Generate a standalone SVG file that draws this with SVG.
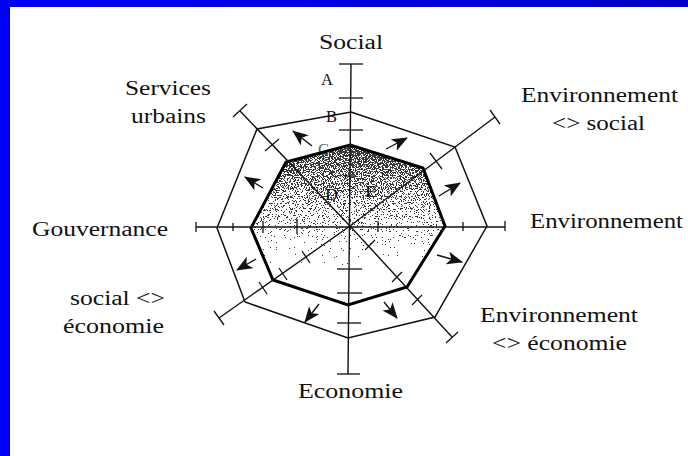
<svg xmlns="http://www.w3.org/2000/svg" width="688" height="456" viewBox="0 0 688 456">
<style>
.lbl{font-family:"Liberation Serif","Times New Roman",serif;font-size:20px;fill:#111}
.let{font-family:"Liberation Serif","Times New Roman",serif;font-size:16px;fill:#111}
.ax{stroke:#111;stroke-width:1.4;fill:none}
.tk{stroke:#111;stroke-width:1.3;fill:none}
.outer{stroke:#111;stroke-width:1.5;fill:none;stroke-linejoin:miter}
.inner{stroke:#000;stroke-width:3;fill:none;stroke-linejoin:miter}
.arr{stroke:#111;stroke-width:1.4;fill:none}
</style>
<defs>
<linearGradient id="shade" gradientUnits="userSpaceOnUse" x1="0" y1="145" x2="0" y2="300">
<stop offset="0" stop-color="#6a6a6a"/>
<stop offset="0.2" stop-color="#808080"/>
<stop offset="0.45" stop-color="#9f9f9f"/>
<stop offset="0.72" stop-color="#c2c2c2"/>
<stop offset="1" stop-color="#ffffff"/>
</linearGradient>
<filter id="stipple" color-interpolation-filters="sRGB" x="0" y="0" width="1" height="1">
<feTurbulence type="fractalNoise" baseFrequency="0.85" numOctaves="2" seed="7" result="noise"/>
<feColorMatrix in="noise" type="matrix" values="1 0 0 0 0  1 0 0 0 0  1 0 0 0 0  0 0 0 0 1" result="ng"/>
<feColorMatrix in="SourceGraphic" type="matrix" values="-1 0 0 0 1  0 -1 0 0 1  0 0 -1 0 1  0 0 0 0 1" result="inv"/>
<feComposite in="ng" in2="inv" operator="arithmetic" k1="0" k2="1" k3="1" k4="-0.5" result="diff"/>
<feComponentTransfer in="diff" result="bw">
<feFuncR type="discrete" tableValues="1 0.22"/>
<feFuncG type="discrete" tableValues="1 0.22"/>
<feFuncB type="discrete" tableValues="1 0.22"/>
</feComponentTransfer>
<feComposite in="bw" in2="SourceAlpha" operator="in"/>
</filter>
<linearGradient id="topbar" x1="0" y1="0" x2="1" y2="0">
<stop offset="0" stop-color="#0000f2"/>
<stop offset="1" stop-color="#0000c8"/>
</linearGradient>
<marker id="ah" markerUnits="userSpaceOnUse" markerWidth="17" markerHeight="14" refX="15" refY="6.5" orient="auto">
<path d="M0,0 L16,6.5 L0,13 L4,6.5 Z" fill="#111"/>
</marker>
</defs>
<rect x="0" y="0" width="688" height="456" fill="#ffffff"/>
<rect x="0" y="0" width="688" height="7" fill="url(#topbar)"/>
<rect x="0" y="0" width="10" height="456" fill="#0000f5"/>

<g id="shaded-profile">
<polygon fill="url(#shade)" filter="url(#stipple)" points="350,145 423,168 445,226 407,287 348,305 273,280 251,228 286,162"/>
<text class="let" x="318" y="155" textLength="11" lengthAdjust="spacingAndGlyphs" style="fill:#666">C</text>
<polygon class="inner" points="350,145 423,168 445,226 407,287 348,305 273,280 251,228 286,162"/>
</g>

<g id="connectors">
<g id="axes">
<line class="ax" x1="351" y1="64" x2="348" y2="374"/>
<line class="ax" x1="196" y1="227" x2="505" y2="227"/>
<line class="ax" x1="350" y1="226" x2="240" y2="111"/>
<line class="ax" x1="350" y1="226" x2="495" y2="117"/>
<line class="ax" x1="350" y1="226" x2="219" y2="318"/>
<line class="ax" x1="350" y1="226" x2="452" y2="337"/>
</g>
<g id="caps">
<line class="tk" x1="339" y1="64" x2="363" y2="64"/>
<line class="tk" x1="337" y1="374" x2="360" y2="374"/>
<line class="tk" x1="196" y1="222" x2="196" y2="232"/>
<line class="tk" x1="505" y1="221" x2="505" y2="231"/>
<line class="tk" x1="233" y1="117" x2="247" y2="104"/>
<line class="tk" x1="490" y1="110" x2="500" y2="124"/>
<line class="tk" x1="214" y1="311" x2="224" y2="325"/>
<line class="tk" x1="446" y1="343" x2="458" y2="332"/>
</g>
<g id="ticks">
<line class="tk" x1="339" y1="98" x2="363" y2="98"/>
<line class="tk" x1="339" y1="130" x2="363" y2="130"/>
<line class="tk" x1="337" y1="269" x2="362" y2="269"/>
<line class="tk" x1="337" y1="293" x2="362" y2="293"/>
<line class="tk" x1="337" y1="323" x2="361" y2="323"/>
<line class="tk" x1="344" y1="176" x2="356" y2="176"/>
<line class="tk" x1="233" y1="223" x2="233" y2="231"/>
<line class="tk" x1="263" y1="221" x2="263" y2="233"/>
<line class="tk" x1="297" y1="219" x2="297" y2="234"/>
<line class="tk" x1="378" y1="221" x2="378" y2="232"/>
<line class="tk" x1="463" y1="222" x2="463" y2="231"/>
<line class="tk" x1="265" y1="151" x2="279" y2="139"/>
<line class="tk" x1="430" y1="153" x2="442" y2="169"/>
<line class="tk" x1="302" y1="251" x2="310" y2="263"/>
<line class="tk" x1="279" y1="268" x2="287" y2="280"/>
<line class="tk" x1="259" y1="282" x2="267" y2="294"/>
<line class="tk" x1="365" y1="250" x2="375" y2="240"/>
<line class="tk" x1="392" y1="282" x2="402" y2="272"/>
<line class="tk" x1="412" y1="305" x2="422" y2="295"/>
</g>
<g id="arrows">
<line class="arr" marker-end="url(#ah)" x1="312" y1="146" x2="293" y2="131"/>
<line class="arr" marker-end="url(#ah)" x1="263" y1="188" x2="245" y2="177"/>
<line class="arr" marker-end="url(#ah)" x1="386" y1="149" x2="407" y2="138"/>
<line class="arr" marker-end="url(#ah)" x1="439" y1="196" x2="460" y2="183"/>
<line class="arr" marker-end="url(#ah)" x1="437" y1="255" x2="462" y2="262"/>
<line class="arr" marker-end="url(#ah)" x1="384" y1="302" x2="397" y2="318"/>
<line class="arr" marker-end="url(#ah)" x1="319" y1="304" x2="305" y2="322"/>
<line class="arr" marker-end="url(#ah)" x1="256" y1="259" x2="237" y2="270"/>
</g>
</g>

<g id="outer-profile">
<polygon class="outer" points="351,112 455,147 487,226 435,317 348,338 245,302 217,228 257,129"/>
</g>

<g id="scale-letters">
<text class="let" x="321" y="85" textLength="12" lengthAdjust="spacingAndGlyphs">A</text>
<text class="let" x="326" y="122" textLength="11" lengthAdjust="spacingAndGlyphs">B</text>
<text class="let" x="325" y="200" textLength="13" lengthAdjust="spacingAndGlyphs">D</text>
<text class="let" x="365" y="197" textLength="12" lengthAdjust="spacingAndGlyphs">E</text>
</g>

<g id="node-social"><text class="lbl" x="319" y="49" textLength="64" lengthAdjust="spacingAndGlyphs">Social</text></g>
<g id="node-services-urbains">
<text class="lbl" x="125" y="95" textLength="86" lengthAdjust="spacingAndGlyphs">Services</text>
<text class="lbl" x="131" y="123" textLength="75" lengthAdjust="spacingAndGlyphs">urbains</text>
</g>
<g id="node-env-social">
<text class="lbl" x="521" y="102" textLength="157" lengthAdjust="spacingAndGlyphs">Environnement</text>
<text class="lbl" x="552" y="130" textLength="93" lengthAdjust="spacingAndGlyphs">&lt;&gt; social</text>
</g>
<g id="node-gouvernance"><text class="lbl" x="32" y="236" textLength="136" lengthAdjust="spacingAndGlyphs">Gouvernance</text></g>
<g id="node-environnement"><text class="lbl" x="530" y="228" textLength="153" lengthAdjust="spacingAndGlyphs">Environnement</text></g>
<g id="node-social-economie">
<text class="lbl" x="70" y="305" textLength="95" lengthAdjust="spacingAndGlyphs">social &lt;&gt;</text>
<text class="lbl" x="63" y="333" textLength="101" lengthAdjust="spacingAndGlyphs">économie</text>
</g>
<g id="node-env-economie">
<text class="lbl" x="480" y="322" textLength="158" lengthAdjust="spacingAndGlyphs">Environnement</text>
<text class="lbl" x="492" y="350" textLength="135" lengthAdjust="spacingAndGlyphs">&lt;&gt; économie</text>
</g>
<g id="node-economie"><text class="lbl" x="298" y="398" textLength="105" lengthAdjust="spacingAndGlyphs">Economie</text></g>
</svg>
